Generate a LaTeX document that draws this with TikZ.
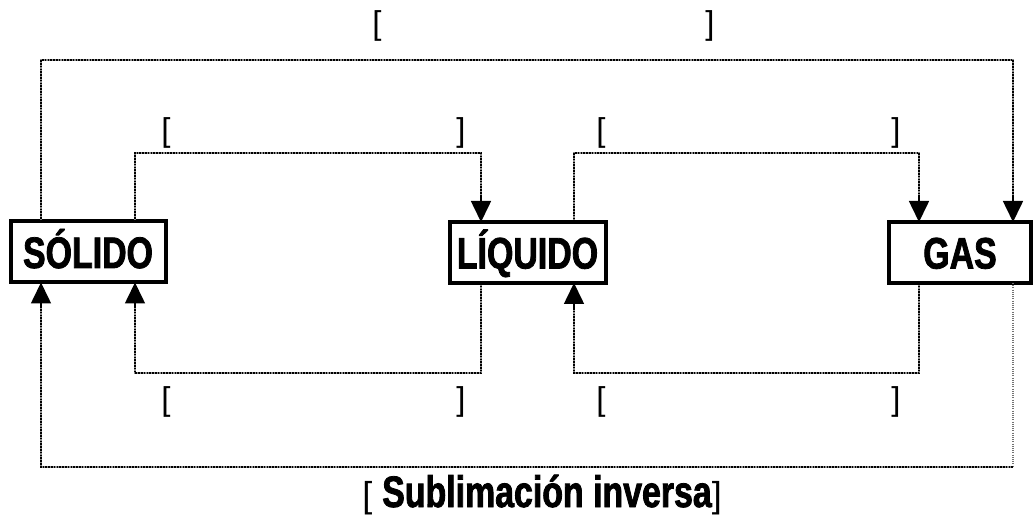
\documentclass[tikz,border=0pt]{standalone}
\usepackage{fontspec}
\setmainfont{Liberation Sans}
\newfontfamily\condfont{Liberation Sans}[FakeStretch=0.77,BoldFeatures={FakeBold=1.8}]
\usetikzlibrary{arrows.meta,calc}
\begin{document}
\begin{tikzpicture}[x=1pt,y=-1pt,
  statebox/.style={draw,line width=4pt,inner sep=0pt,outer sep=0pt,minimum height=61pt,
    text height=32pt,text depth=0pt,
    font=\condfont\bfseries\fontsize{44}{48}\selectfont},
  dl/.style={line width=2.7pt,draw=black!45,
    postaction={draw=black,line width=2.7pt,dash pattern=on 1.6pt off 1.2pt}},
  thindl/.style={line width=1.2pt,draw=black!55,dash pattern=on 1pt off 1.2pt},
  tipline/.style={line width=1.6pt,-{Triangle[width=20pt,length=21pt]}},
  brk/.style={inner sep=0pt,font=\fontsize{33}{36}\selectfont}]
\useasboundingbox (0,0) rectangle (1036,518);
% states
\node[statebox,minimum width=155pt] (sol) at (88,252) {SÓLIDO};
\node[statebox,minimum width=156pt] (liq) at (527.5,252.5) {LÍQUIDO};
\node[statebox,minimum width=142pt] (gas) at (960,252.5) {GAS};
% helper coordinates
\coordinate (ta) at (41,60);
\coordinate (tb) at (1013,60);
\coordinate (ma) at (135,153);
\coordinate (mb) at (481,153);
\coordinate (mc) at (574,153);
\coordinate (md) at (919,153);
\coordinate (ba) at (135,373);
\coordinate (bb) at (481,373);
\coordinate (bc) at (574,373);
\coordinate (bd) at (919,373);
\coordinate (oa) at (41,467);
\coordinate (ob) at (1013,467);
% top connectors (dotted run, then solid tip)
\draw[dl] (sol.north -| ta) -- (ta) -- (tb) -- ($(gas.north -| tb)+(0,-24)$);
\draw[tipline] ($(gas.north -| tb)+(0,-26)$) -- (gas.north -| tb);
\draw[dl] (sol.north -| ma) -- (ma) -- (mb) -- ($(liq.north -| mb)+(0,-24)$);
\draw[tipline] ($(liq.north -| mb)+(0,-26)$) -- (liq.north -| mb);
\draw[dl] (liq.north -| mc) -- (mc) -- (md) -- ($(gas.north -| md)+(0,-24)$);
\draw[tipline] ($(gas.north -| md)+(0,-26)$) -- (gas.north -| md);
% bottom connectors
\draw[dl] (liq.south -| bb) -- (bb) -- (ba) -- ($(sol.south -| ba)+(0,24)$);
\draw[tipline] ($(sol.south -| ba)+(0,26)$) -- (sol.south -| ba);
\draw[dl] (gas.south -| bd) -- (bd) -- (bc) -- ($(liq.south -| bc)+(0,24)$);
\draw[tipline] ($(liq.south -| bc)+(0,26)$) -- (liq.south -| bc);
\draw[thindl] (gas.south -| ob) -- (ob);
\draw[dl] (ob) -- (oa) -- ($(sol.south -| oa)+(0,24)$);
\draw[tipline] ($(sol.south -| oa)+(0,26)$) -- (sol.south -| oa);
% brackets
\node[brk] (t1) at (377,26) {[};
\node[brk] (t2) at (710,26) {]};
\node[brk] (m1) at (166,133) {[};
\node[brk] (m2) at (461,133) {]};
\node[brk] (m3) at (601,133) {[};
\node[brk] (m4) at (896,133) {]};
\node[brk] (b1) at (166,402) {[};
\node[brk] (b2) at (461,402) {]};
\node[brk] (b3) at (601,402) {[};
\node[brk] (b4) at (896,402) {]};
\node[inner sep=0pt,anchor=base] (lbl) at (542,507)
  {\fontsize{36}{38}\selectfont[ {\condfont\bfseries\fontsize{44}{48}\selectfont Sublimación inversa}]};
\end{tikzpicture}
\end{document}
